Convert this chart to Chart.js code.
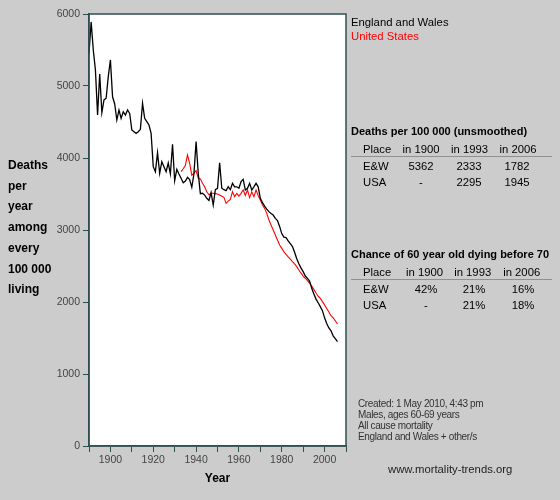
<!DOCTYPE html>
<html>
<head>
<meta charset="utf-8">
<script src="https://cdn.jsdelivr.net/npm/chart.js@4.4.0/dist/chart.umd.min.js"></script>
<style>
  html, body { margin: 0; padding: 0; background: #cccccc; }
  body { width: 560px; height: 500px; position: relative; overflow: hidden;
         font-family: "Liberation Sans", Arial, sans-serif; }
  #wrap { position: absolute; left: 0; top: 0; width: 560px; height: 500px; }
  .t { position: absolute; white-space: nowrap; font-size: 11.3px; line-height: 14px; color: #000; }
  .c { transform: translateX(-50%); }
  .b { font-weight: bold; font-size: 11px; }
  .hr { position: absolute; height: 1.5px; background: #909090; }
  #ylab { position: absolute; left: 8px; top: 155px; font-weight: bold; font-size: 12px; line-height: 20.7px; color: #000; }
  #notes { position: absolute; left: 358px; top: 398px; font-size: 10px; line-height: 11px; color: #333; letter-spacing: -0.35px; }
</style>
</head>
<body>
<div id="wrap"><canvas id="c" width="560" height="500"></canvas></div>
<div id="ylab">Deaths<br>per<br>year<br>among<br>every<br>100 000<br>living</div>
<div class="t" style="left:351px;top:15px;color:#000">England and Wales</div>
<div class="t" style="left:351px;top:29px;color:#ff0000">United States</div>
<div id="tables"></div>
<div id="notes">Created: 1 May 2010, 4:43 pm<br>Males, ages 60-69 years<br>All cause mortality<br>England and Wales + other/s</div>
<div class="t" style="left:388px;top:462px;color:#222">www.mortality-trends.org</div>
<script>
// ---- Data ----
const ewStartYear = 1890;
const ewValues = [
  5454, 5890, 5500, 5222, 4597, 5167, 4630, 4806, 4830, 5130,
  5362, 4850, 4750, 4528, 4667, 4551, 4643, 4597, 4667, 4620,
  4389, 4366, 4343, 4366, 4398, 4759, 4551, 4505, 4458, 4343,
  3880, 3810, 4074, 3787, 3949, 3880, 3810, 3930, 3780, 4190,
  3685, 3843, 3778, 3718, 3657, 3680, 3731, 3700, 3593, 3780,
  4230, 3790, 3505, 3510, 3485, 3440, 3410, 3520, 3347, 3560,
  3578, 3935, 3580, 3560, 3546, 3600, 3560, 3648, 3600, 3600,
  3580, 3671, 3704, 3555, 3580, 3648, 3555, 3600, 3648, 3600,
  3440, 3380, 3333, 3290, 3255, 3230, 3208, 3162, 3130, 3050,
  2950, 2900, 2895, 2850, 2810, 2769, 2690, 2600, 2530, 2470,
  2421, 2361, 2329, 2290, 2190, 2110, 2040, 1990, 1935, 1880,
  1780, 1700, 1640, 1600, 1530, 1490, 1449
];
const usStartYear = 1933;
const usValues = [
  3810, 3850, 3900, 4042, 3926, 3760, 3790,
  3825, 3720, 3710, 3650, 3600, 3532, 3490, 3510, 3510, 3505,
  3500, 3486, 3470, 3454, 3370, 3400, 3426, 3532, 3463, 3509,
  3470, 3509, 3555, 3480, 3555, 3450, 3530, 3463, 3555, 3480,
  3417, 3347, 3300, 3231, 3139, 3069, 3000, 2931, 2861, 2792,
  2745, 2699, 2660, 2625, 2595, 2560, 2530, 2491, 2445, 2400,
  2360, 2330, 2296, 2262, 2220, 2175, 2125, 2080, 2051, 2005,
  1960, 1910, 1860, 1810, 1780, 1740, 1694
];
const seriesNames = ["England and Wales", "United States"];
const yTicks = [0, 1000, 2000, 3000, 4000, 5000, 6000];
const xMin = 1890, xMax = 2010;

const table1Title = "Deaths per 100 000 (unsmoothed)";
const tableHeader = ["Place", "in 1900", "in 1993", "in 2006"];
const table1Rows = [["E&W", "5362", "2333", "1782"], ["USA", "-", "2295", "1945"]];
const table2Title = "Chance of 60 year old dying before 70";
const table2Rows = [["E&W", "42%", "21%", "16%"], ["USA", "-", "21%", "18%"]];

// ---- Tables (HTML text) ----
function buildTable(title, rows, top, cols, rowCols) {
  const host = document.getElementById('tables');
  const mk = (txt, left, t, cls) => {
    const d = document.createElement('div');
    d.className = 't ' + (cls || '');
    d.style.left = left + 'px'; d.style.top = t + 'px';
    d.textContent = txt; host.appendChild(d);
  };
  mk(title, 351, top, 'b');
  tableHeader.forEach((h, i) => mk(h, i === 0 ? 363 : cols[i - 1], top + 18, i === 0 ? '' : 'c'));
  const hr = document.createElement('div');
  hr.className = 'hr'; hr.style.left = '351px'; hr.style.width = '201px';
  hr.style.top = (top + 31.5) + 'px'; host.appendChild(hr);
  rows.forEach((r, ri) => r.forEach((v, i) =>
    mk(v, i === 0 ? 363 : rowCols[i - 1], top + 35 + ri * 16.3, i === 0 ? '' : 'c')));
}
buildTable(table1Title, table1Rows, 124, [421, 469.5, 518], [421, 469, 517]);
buildTable(table2Title, table2Rows, 247, [424.5, 472.7, 521.7], [426, 474, 523]);

// ---- Chart ----
const ewData = ewValues.map((v, i) => ({x: ewStartYear + i, y: v}));
const usData = usValues.map((v, i) => ({x: usStartYear + i, y: v}));
const axisColor = '#2f4f4f';

const boxPlugin = {
  id: 'box',
  beforeDraw(chart) {
    const {ctx, chartArea: a} = chart;
    ctx.save(); ctx.fillStyle = '#ffffff';
    ctx.fillRect(a.left, a.top, a.right - a.left, a.bottom - a.top);
    ctx.restore();
  },
  afterDraw(chart) {
    const {ctx, chartArea: a} = chart;
    ctx.save(); ctx.strokeStyle = axisColor; ctx.lineWidth = 1.5;
    ctx.strokeRect(a.left, a.top, a.right - a.left, a.bottom - a.top);
    ctx.restore();
  }
};

const tickFont = {family: 'Liberation Sans, Arial', size: 10.5};

new Chart(document.getElementById('c'), {
  type: 'line',
  data: {
    datasets: [
      {label: seriesNames[0], data: ewData, borderColor: '#000000', borderWidth: 1.3, pointRadius: 0, tension: 0},
      {label: seriesNames[1], data: usData, borderColor: '#ff0000', borderWidth: 1.1, pointRadius: 0, tension: 0}
    ]
  },
  options: {
    responsive: false, animation: false,
    layout: {padding: {left: 0, top: 14, right: 214, bottom: 0}},
    plugins: {legend: {display: false}, tooltip: {enabled: false}},
    scales: {
      x: {
        type: 'linear', min: xMin, max: xMax,
        afterFit(s) { s.height = 54; },
        ticks: {stepSize: 10, autoSkip: false, maxRotation: 0, padding: 2,
                color: '#444', font: tickFont,
                callback: v => (v % 20 === 0 ? String(v) : '')},
        grid: {drawOnChartArea: false, drawTicks: true, tickLength: 6, color: axisColor},
        border: {color: axisColor, width: 1.5},
        title: {display: true, text: 'Year', color: '#000',
                font: {family: 'Liberation Sans, Arial', size: 12, weight: 'bold'},
                padding: {top: 0, bottom: 14}}
      },
      y: {
        min: 0, max: 6000,
        afterFit(s) { s.width = 89; },
        afterBuildTicks(s) { s.ticks = yTicks.map(v => ({value: v})); },
        ticks: {padding: 3, color: '#444', font: tickFont, callback: v => String(v)},
        grid: {drawOnChartArea: false, drawTicks: true, tickLength: 6, color: axisColor},
        border: {color: axisColor, width: 1.5}
      }
    }
  },
  plugins: [boxPlugin]
});
</script>
</body>
</html>
